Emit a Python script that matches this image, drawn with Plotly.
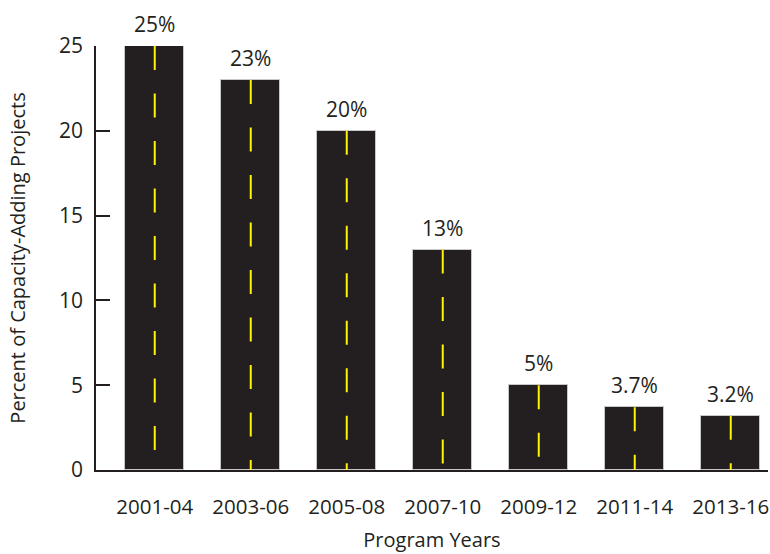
import plotly.graph_objects as go

# Share of capacity-adding projects by program period
periods = ["2001-04", "2003-06", "2005-08", "2007-10", "2009-12", "2011-14", "2013-16"]
percent = [25, 23, 20, 13, 5, 3.7, 3.2]
labels = ["25%", "23%", "20%", "13%", "5%", "3.7%", "3.2%"]
y_ticks = [0, 5, 10, 15, 20, 25]

INK = "#231f20"
LANE = "#fff200"
FONT = "Open Sans"

fig = go.Figure()

# Asphalt-style bars
fig.add_trace(go.Bar(
    x=list(range(len(periods))),
    y=percent,
    width=0.615,
    marker=dict(color=INK, line=dict(color="#c8c8c8", width=1)),
    hoverinfo="skip",
    showlegend=False,
))

# Dashed yellow lane line down the middle of each bar
for i, v in enumerate(percent):
    fig.add_trace(go.Scatter(
        x=[i, i],
        y=[v, 0],
        mode="lines",
        line=dict(color=LANE, width=2, dash="24px,23.5px"),
        hoverinfo="skip",
        showlegend=False,
    ))

# Value labels above the bars
for i, (v, t) in enumerate(zip(percent, labels)):
    fig.add_annotation(
        x=i, y=v, text=t, showarrow=False,
        yanchor="bottom", yshift=6,
        font=dict(family=FONT, size=21, color=INK),
    )

fig.update_layout(
    width=770,
    height=554,
    margin=dict(l=96, r=2, t=46, b=84),
    paper_bgcolor="white",
    plot_bgcolor="white",
    font=dict(family=FONT, color=INK),
    bargap=0,
)

fig.update_xaxes(
    range=[-0.612, 6.388],
    tickmode="array",
    tickvals=list(range(len(periods))),
    ticktext=periods,
    ticks="",
    ticklabelstandoff=17,
    ticklabeloverflow="allow",
    tickfont=dict(family=FONT, size=20.5, color=INK),
    showline=True,
    linecolor=INK,
    linewidth=2,
    showgrid=False,
    zeroline=False,
    title=dict(text="Program Years", font=dict(family=FONT, size=20, color=INK), standoff=14),
)

fig.update_yaxes(
    range=[0, 25],
    tickmode="array",
    tickvals=y_ticks,
    ticks="inside",
    ticklen=14,
    tickwidth=1.5,
    tickcolor=INK,
    ticklabelstandoff=7,
    tickfont=dict(family=FONT, size=21, color=INK),
    showline=True,
    linecolor=INK,
    linewidth=1.5,
    showgrid=False,
    zeroline=False,
    title=dict(text="Percent of Capacity-Adding Projects",
               font=dict(family=FONT, size=20, color=INK), standoff=28),
)

fig.write_html("out.html")
